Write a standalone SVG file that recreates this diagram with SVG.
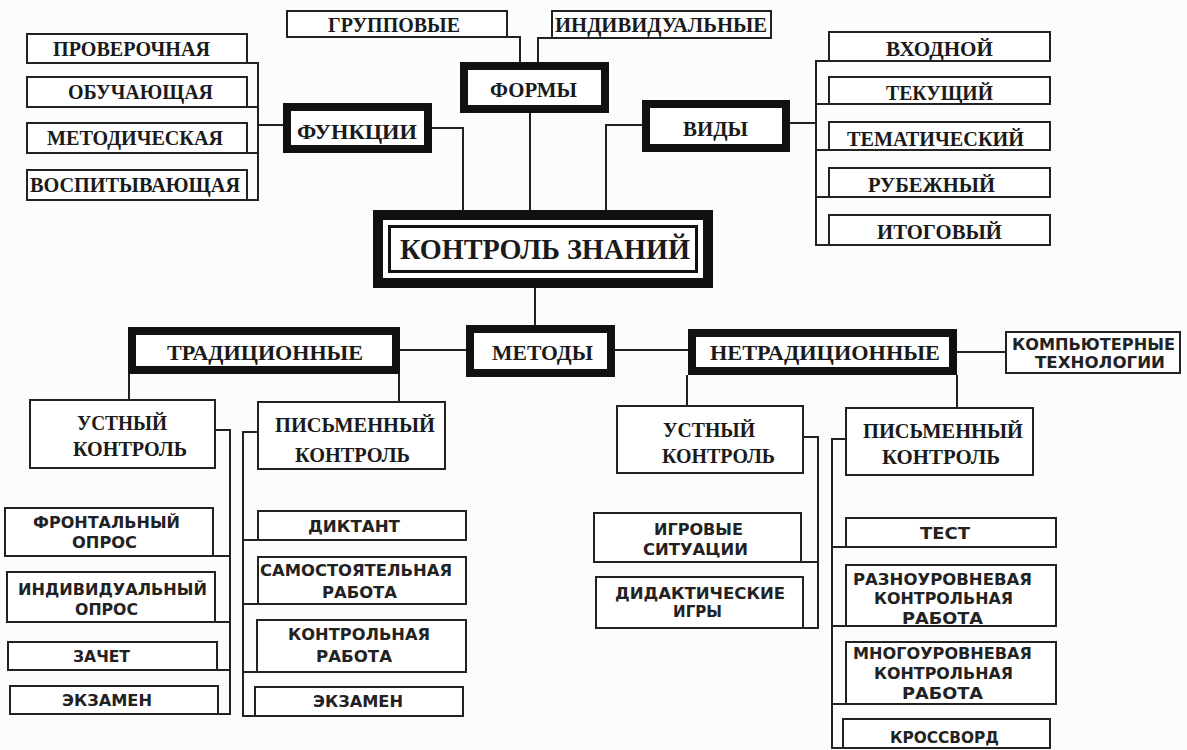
<svg xmlns="http://www.w3.org/2000/svg" width="1187" height="750" viewBox="0 0 1187 750">
<style>
.bg{fill:#fcfcfc}
.box{fill:#fff;stroke:#222;stroke-width:2}
.thick{fill:#fff;stroke:#111;stroke-width:8}
.conn{fill:none;stroke:#222;stroke-width:2}
.t1{font-family:"Liberation Serif",serif;font-weight:bold;font-size:21px;fill:#1a1a1a}
.t2{font-family:"DejaVu Sans",sans-serif;font-weight:bold;font-size:15px;fill:#222}
</style>
<rect class="bg" x="0" y="0" width="1187" height="750"/>
<g id="connectors">
<path class="conn" d="M247 63H258V200H247M247 107H258M247 153H258M258 125H283"/>
<path class="conn" d="M790 123H816M829 61H816V245H829M816 104H829M816 150H829M816 197H829"/>
<path class="conn" d="M432 128H463V210M530 113V210M642 125H606V210M507 37H520V62M552 38H538V62"/>
<path class="conn" d="M535 288V325M466 350H400M614 350H688M955 352H1006"/>
<path class="conn" d="M129 374V400M399 374V402M687 375V406M957 375V408"/>
<path class="conn" d="M215 430H230V714H218M213 556H230M215 622H230M217 670H230"/>
<path class="conn" d="M258 432H243V716H255M243 540H258M243 604H258M243 672H257"/>
<path class="conn" d="M803 437H818V628H803M801 562H818"/>
<path class="conn" d="M846 439H832V748H843M832 547H846M832 626H846M832 704H846"/>
</g>
<g id="n-proverochnaya"><rect class="box" x="27" y="34" width="220" height="29"/><text class="t1" x="53" y="56" textLength="157" lengthAdjust="spacingAndGlyphs">ПРОВЕРОЧНАЯ</text></g>
<g id="n-obuchayushchaya"><rect class="box" x="27" y="77" width="220" height="30"/><text class="t1" x="68" y="99" textLength="145" lengthAdjust="spacingAndGlyphs">ОБУЧАЮЩАЯ</text></g>
<g id="n-metodicheskaya"><rect class="box" x="27" y="123" width="220" height="30"/><text class="t1" x="47" y="145" textLength="176" lengthAdjust="spacingAndGlyphs">МЕТОДИЧЕСКАЯ</text></g>
<g id="n-vospityvayushchaya"><rect class="box" x="27" y="170" width="220" height="30"/><text class="t1" x="30" y="192" textLength="210" lengthAdjust="spacingAndGlyphs">ВОСПИТЫВАЮЩАЯ</text></g>
<g id="n-funktsii"><rect class="thick" x="287" y="107" width="141" height="42"/><text class="t1" x="297" y="139" textLength="120" lengthAdjust="spacingAndGlyphs">ФУНКЦИИ</text></g>
<g id="n-gruppovye"><rect class="box" x="287" y="11" width="220" height="26"/><text class="t1" x="328" y="32" textLength="132" lengthAdjust="spacingAndGlyphs">ГРУППОВЫЕ</text></g>
<g id="n-individualnye"><rect class="box" x="552" y="11" width="219" height="27"/><text class="t1" x="555" y="32" textLength="212" lengthAdjust="spacingAndGlyphs">ИНДИВИДУАЛЬНЫЕ</text></g>
<g id="n-formy"><rect class="thick" x="464" y="66" width="141" height="43"/><text class="t1" x="490" y="97" textLength="87" lengthAdjust="spacingAndGlyphs">ФОРМЫ</text></g>
<g id="n-vidy"><rect class="thick" x="646" y="104" width="140" height="44"/><text class="t1" x="683" y="136" textLength="65" lengthAdjust="spacingAndGlyphs">ВИДЫ</text></g>
<g id="n-vkhodnoy"><rect class="box" x="829" y="32" width="221" height="29"/><text class="t1" x="886" y="56" textLength="107" lengthAdjust="spacingAndGlyphs">ВХОДНОЙ</text></g>
<g id="n-tekushchiy"><rect class="box" x="829" y="77" width="221" height="27"/><text class="t1" x="886" y="100" textLength="107" lengthAdjust="spacingAndGlyphs">ТЕКУЩИЙ</text></g>
<g id="n-tematicheskiy"><rect class="box" x="829" y="122" width="221" height="28"/><text class="t1" x="847" y="146" textLength="177" lengthAdjust="spacingAndGlyphs">ТЕМАТИЧЕСКИЙ</text></g>
<g id="n-rubezhnyy"><rect class="box" x="829" y="168" width="221" height="29"/><text class="t1" x="868" y="192" textLength="127" lengthAdjust="spacingAndGlyphs">РУБЕЖНЫЙ</text></g>
<g id="n-itogovyy"><rect class="box" x="829" y="215" width="221" height="30"/><text class="t1" x="877" y="239" textLength="125" lengthAdjust="spacingAndGlyphs">ИТОГОВЫЙ</text></g>
<g id="n-kontrol-znaniy">
<rect x="378" y="215" width="330" height="68" fill="#fff" stroke="#111" stroke-width="10"/>
<rect x="389.5" y="226.5" width="307" height="45" fill="none" stroke="#111" stroke-width="3"/>
<text class="t1" x="400" y="259" style="font-size:29px" textLength="290" lengthAdjust="spacingAndGlyphs">КОНТРОЛЬ ЗНАНИЙ</text>
</g>
<g id="n-metody"><rect class="thick" x="470" y="329" width="141" height="44"/><text class="t1" x="492" y="360" textLength="101" lengthAdjust="spacingAndGlyphs">МЕТОДЫ</text></g>
<g id="n-traditsionnye"><rect class="thick" x="132" y="331" width="264" height="39"/><text class="t1" x="167" y="360" textLength="196" lengthAdjust="spacingAndGlyphs">ТРАДИЦИОННЫЕ</text></g>
<g id="n-netraditsionnye"><rect class="thick" x="692" y="333" width="261" height="38"/><text class="t1" x="710" y="360" textLength="230" lengthAdjust="spacingAndGlyphs">НЕТРАДИЦИОННЫЕ</text></g>
<g id="n-kompyuternye"><rect class="box" x="1006" y="332" width="174" height="41"/><text class="t2" x="1012" y="350" textLength="163" lengthAdjust="spacingAndGlyphs">КОМПЬЮТЕРНЫЕ</text><text class="t2" x="1035" y="368" textLength="130" lengthAdjust="spacingAndGlyphs">ТЕХНОЛОГИИ</text></g>
<g id="n-ustnyy-1"><rect class="box" x="30" y="400" width="185" height="68"/><text class="t1" x="77" y="430" textLength="90" lengthAdjust="spacingAndGlyphs">УСТНЫЙ</text><text class="t1" x="73" y="456" textLength="114" lengthAdjust="spacingAndGlyphs">КОНТРОЛЬ</text></g>
<g id="n-pismennyy-1"><rect class="box" x="258" y="402" width="187" height="67"/><text class="t1" x="275" y="432" textLength="160" lengthAdjust="spacingAndGlyphs">ПИСЬМЕННЫЙ</text><text class="t1" x="295" y="462" textLength="115" lengthAdjust="spacingAndGlyphs">КОНТРОЛЬ</text></g>
<g id="n-ustnyy-2"><rect class="box" x="617" y="406" width="186" height="67"/><text class="t1" x="663" y="437" textLength="92" lengthAdjust="spacingAndGlyphs">УСТНЫЙ</text><text class="t1" x="662" y="463" textLength="113" lengthAdjust="spacingAndGlyphs">КОНТРОЛЬ</text></g>
<g id="n-pismennyy-2"><rect class="box" x="846" y="408" width="187" height="67"/><text class="t1" x="863" y="438" textLength="160" lengthAdjust="spacingAndGlyphs">ПИСЬМЕННЫЙ</text><text class="t1" x="882" y="464" textLength="118" lengthAdjust="spacingAndGlyphs">КОНТРОЛЬ</text></g>
<g id="n-frontalnyy"><rect class="box" x="5" y="508" width="208" height="48"/><text class="t2" x="33" y="528" textLength="147" lengthAdjust="spacingAndGlyphs">ФРОНТАЛЬНЫЙ</text><text class="t2" x="72" y="548" textLength="65" lengthAdjust="spacingAndGlyphs">ОПРОС</text></g>
<g id="n-individualnyy"><rect class="box" x="7" y="572" width="208" height="50"/><text class="t2" x="18" y="595" textLength="189" lengthAdjust="spacingAndGlyphs">ИНДИВИДУАЛЬНЫЙ</text><text class="t2" x="75" y="615" textLength="63" lengthAdjust="spacingAndGlyphs">ОПРОС</text></g>
<g id="n-zachet"><rect class="box" x="8" y="642" width="209" height="28"/><text class="t2" x="73" y="662" textLength="57" lengthAdjust="spacingAndGlyphs">ЗАЧЕТ</text></g>
<g id="n-ekzamen-1"><rect class="box" x="10" y="686" width="208" height="28"/><text class="t2" x="62" y="706" textLength="90" lengthAdjust="spacingAndGlyphs">ЭКЗАМЕН</text></g>
<g id="n-diktant"><rect class="box" x="258" y="511" width="208" height="29"/><text class="t2" x="308" y="532" textLength="92" lengthAdjust="spacingAndGlyphs">ДИКТАНТ</text></g>
<g id="n-samostoyatelnaya"><rect class="box" x="258" y="557" width="208" height="47"/><text class="t2" x="260" y="576" textLength="192" lengthAdjust="spacingAndGlyphs">САМОСТОЯТЕЛЬНАЯ</text><text class="t2" x="322" y="598" textLength="75" lengthAdjust="spacingAndGlyphs">РАБОТА</text></g>
<g id="n-kontrolnaya"><rect class="box" x="257" y="620" width="209" height="52"/><text class="t2" x="288" y="640" textLength="142" lengthAdjust="spacingAndGlyphs">КОНТРОЛЬНАЯ</text><text class="t2" x="316" y="662" textLength="76" lengthAdjust="spacingAndGlyphs">РАБОТА</text></g>
<g id="n-ekzamen-2"><rect class="box" x="255" y="687" width="208" height="29"/><text class="t2" x="313" y="707" textLength="90" lengthAdjust="spacingAndGlyphs">ЭКЗАМЕН</text></g>
<g id="n-igrovye"><rect class="box" x="594" y="513" width="207" height="49"/><text class="t2" x="654" y="535" textLength="89" lengthAdjust="spacingAndGlyphs">ИГРОВЫЕ</text><text class="t2" x="643" y="555" textLength="105" lengthAdjust="spacingAndGlyphs">СИТУАЦИИ</text></g>
<g id="n-didakticheskie"><rect class="box" x="596" y="577" width="207" height="51"/><text class="t2" x="615" y="599" textLength="170" lengthAdjust="spacingAndGlyphs">ДИДАКТИЧЕСКИЕ</text><text class="t2" x="673" y="617" textLength="49" lengthAdjust="spacingAndGlyphs">ИГРЫ</text></g>
<g id="n-test"><rect class="box" x="846" y="518" width="210" height="29"/><text class="t2" x="920" y="539" textLength="50" lengthAdjust="spacingAndGlyphs">ТЕСТ</text></g>
<g id="n-raznourovnevaya"><rect class="box" x="846" y="565" width="210" height="61"/><text class="t2" x="853" y="585" textLength="179" lengthAdjust="spacingAndGlyphs">РАЗНОУРОВНЕВАЯ</text><text class="t2" x="874" y="604" textLength="139" lengthAdjust="spacingAndGlyphs">КОНТРОЛЬНАЯ</text><text class="t2" x="902" y="624" textLength="81" lengthAdjust="spacingAndGlyphs">РАБОТА</text></g>
<g id="n-mnogourovnevaya"><rect class="box" x="846" y="642" width="210" height="62"/><text class="t2" x="853" y="659" textLength="179" lengthAdjust="spacingAndGlyphs">МНОГОУРОВНЕВАЯ</text><text class="t2" x="874" y="679" textLength="139" lengthAdjust="spacingAndGlyphs">КОНТРОЛЬНАЯ</text><text class="t2" x="902" y="699" textLength="81" lengthAdjust="spacingAndGlyphs">РАБОТА</text></g>
<g id="n-krossvord"><rect class="box" x="843" y="719" width="207" height="29"/><text class="t2" x="890" y="743" textLength="109" lengthAdjust="spacingAndGlyphs">КРОССВОРД</text></g>
</svg>
